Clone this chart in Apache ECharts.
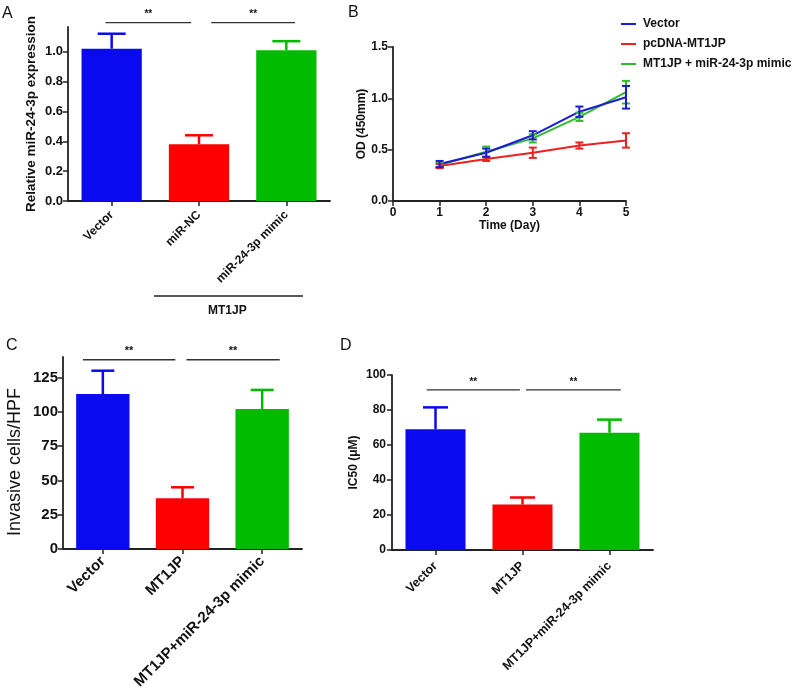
<!DOCTYPE html>
<html><head><meta charset="utf-8">
<script src="https://cdn.jsdelivr.net/npm/echarts@6/dist/echarts.min.js"></script>
<style>html,body{margin:0;padding:0;background:#fff}#c{width:800px;height:691px}</style>
</head><body><div id="c"></div>
<script>
// ---- data ----
const catsA = ['Vector', 'miR-NC', 'miR-24-3p mimic'];
const valsA = [1.02, 0.38, 1.01];
const errA = [0.10, 0.06, 0.06];
const yTicksA = [0, 0.2, 0.4, 0.6, 0.8, 1.0];

const daysB = [1, 2, 3, 4, 5];
const vectorB = [0.36, 0.47, 0.64, 0.87, 1.01];
const vectorErrB = [0.03, 0.04, 0.04, 0.05, 0.11];
const pcdnaB = [0.34, 0.41, 0.47, 0.54, 0.59];
const pcdnaErrB = [0.02, 0.02, 0.05, 0.03, 0.07];
const mimicB = [0.35, 0.48, 0.61, 0.82, 1.06];
const mimicErrB = [0.02, 0.05, 0.04, 0.04, 0.11];
const namesB = ['Vector', 'pcDNA-MT1JP', 'MT1JP + miR-24-3p mimic'];

const catsC = ['Vector', 'MT1JP', 'MT1JP+miR-24-3p mimic'];
const valsC = [113, 37, 102];
const errC = [17, 8, 14];
const yTicksC = [0, 25, 50, 75, 100, 125];

const catsD = ['Vector', 'MT1JP', 'MT1JP+miR-24-3p mimic'];
const valsD = [69, 26, 67];
const errD = [12.5, 4, 7.5];

const sigPairs = [[0, 1], [1, 2]];
const sigText = '**';
const groupLabel = 'MT1JP';

// ---- style ----
const FONT = '"Liberation Sans", Arial, sans-serif';
const barColors = ['#0a0af0', '#ff0000', '#00bb00'];
const lineColors = ['#1c1cd6', '#ee2020', '#30bb30'];

const chart = echarts.init(document.getElementById('c'));

function barData(vals) {
  return vals.map((v, i) => ({ value: v, itemStyle: { color: barColors[i] } }));
}
function errData(vals, errs) {
  return vals.map((v, i) => [i, v, errs[i]]);
}
function errBarSeries(idx, vals, errs, capW, lw) {
  return {
    type: 'custom', xAxisIndex: idx, yAxisIndex: idx, z: 5,
    data: errData(vals, errs),
    renderItem: function (params, api) {
      const i = api.value(0), v = api.value(1), e = api.value(2);
      const b = api.coord([i, v]), t = api.coord([i, v + e]);
      const col = barColors[params.dataIndex];
      const st = { stroke: col, lineWidth: lw };
      return { type: 'group', children: [
        { type: 'line', shape: { x1: b[0], y1: b[1], x2: t[0], y2: t[1] }, style: st },
        { type: 'line', shape: { x1: t[0] - capW / 2, y1: t[1], x2: t[0] + capW / 2, y2: t[1] }, style: st }
      ]};
    }
  };
}
function sigSeries(idx, level, offs, fontSize) {
  return {
    type: 'custom', xAxisIndex: idx, yAxisIndex: idx, z: 6, clip: false,
    data: sigPairs.map(p => [p[0], p[1], level]),
    renderItem: function (params, api) {
      const a = api.value(0), b = api.value(1), lv = api.value(2);
      const bw = api.size([1, 0])[0];
      const o = offs[params.dataIndex];
      const p1 = api.coord([a, lv]), p2 = api.coord([b, lv]);
      const x1 = p1[0] + o[0] * bw, x2 = p2[0] + o[1] * bw;
      return { type: 'group', children: [
        { type: 'line', shape: { x1: x1, y1: p1[1], x2: x2, y2: p1[1] }, style: { stroke: '#333', lineWidth: 1.3 } },
        { type: 'text', style: { text: sigText, x: (x1 + x2) / 2, y: p1[1] - 3, align: 'center', verticalAlign: 'bottom',
          font: 'bold ' + fontSize + 'px ' + FONT, fill: '#111' } }
      ]};
    }
  };
}
function bErrSeries(vals, errs, k) {
  return {
    type: 'custom', xAxisIndex: 1, yAxisIndex: 1, z: 5,
    data: vals.map((v, i) => [daysB[i], v, errs[i]]),
    renderItem: function (params, api) {
      const d = api.value(0), v = api.value(1), e = api.value(2);
      const t = api.coord([d, v + e]), b = api.coord([d, v - e]);
      const st = { stroke: lineColors[k], lineWidth: 2 };
      const c = 4;
      return { type: 'group', children: [
        { type: 'line', shape: { x1: t[0], y1: t[1], x2: b[0], y2: b[1] }, style: st },
        { type: 'line', shape: { x1: t[0] - c, y1: t[1], x2: t[0] + c, y2: t[1] }, style: st },
        { type: 'line', shape: { x1: b[0] - c, y1: b[1], x2: b[0] + c, y2: b[1] }, style: st }
      ]};
    }
  };
}

const axisLineStyle = { show: true, lineStyle: { color: '#222', width: 1.8 } };
const tickStyle = { show: true, length: 5, lineStyle: { color: '#222', width: 1.5 } };

const option = {
  backgroundColor: '#fff',
  animation: false,
  textStyle: { fontFamily: FONT },
  grid: [
    { left: 68, top: 27, width: 262, height: 174, outerBoundsMode: 'none', containLabel: false },
    { left: 393, top: 47, width: 233, height: 154, outerBoundsMode: 'none', containLabel: false },
    { left: 63, top: 357, width: 239, height: 192, outerBoundsMode: 'none', containLabel: false },
    { left: 392, top: 375, width: 261, height: 175, outerBoundsMode: 'none', containLabel: false }
  ],
  legend: {
    data: namesB, orient: 'vertical', left: 616, top: 13, icon: 'rect',
    itemWidth: 15, itemHeight: 2, itemGap: 8,
    textStyle: { fontFamily: FONT, fontWeight: 'bold', fontSize: 12, color: '#111', padding: [0, 0, 0, 2] }
  },
  xAxis: [
    { gridIndex: 0, type: 'category', data: catsA, axisLine: axisLineStyle, axisTick: Object.assign({ alignWithLabel: true }, tickStyle),
      axisLabel: { rotate: 45, margin: 12, fontWeight: 'bold', fontSize: 12, color: '#111', interval: 0 } },
    { gridIndex: 1, type: 'value', min: 0, max: 5, interval: 1, splitLine: { show: false },
      axisLine: axisLineStyle, axisTick: tickStyle,
      axisLabel: { fontWeight: 'bold', fontSize: 12, color: '#111', margin: 6 },
      name: 'Time (Day)', nameLocation: 'middle', nameGap: 16,
      nameTextStyle: { fontWeight: 'bold', fontSize: 12, color: '#111' } },
    { gridIndex: 2, type: 'category', data: catsC, axisLine: axisLineStyle, axisTick: Object.assign({ alignWithLabel: true }, tickStyle),
      axisLabel: { rotate: 45, margin: 10, fontWeight: 'bold', fontSize: 15, color: '#111', interval: 0 } },
    { gridIndex: 3, type: 'category', data: catsD, axisLine: axisLineStyle, axisTick: Object.assign({ alignWithLabel: true }, tickStyle),
      axisLabel: { rotate: 45, margin: 14, fontWeight: 'bold', fontSize: 12.5, color: '#111', interval: 0 } }
  ],
  yAxis: [
    { gridIndex: 0, type: 'value', min: 0, max: 1.165, splitLine: { show: false },
      axisLine: axisLineStyle,
      axisTick: Object.assign({ customValues: yTicksA }, tickStyle),
      axisLabel: { customValues: yTicksA, formatter: v => v.toFixed(1), fontWeight: 'bold', fontSize: 13, color: '#111', margin: 5 },
      name: 'Relative miR-24-3p expression', nameLocation: 'middle', nameGap: 30,
      nameTextStyle: { fontWeight: 'bold', fontSize: 13.5, color: '#111' } },
    { gridIndex: 1, type: 'value', min: 0, max: 1.5, interval: 0.5, splitLine: { show: false },
      axisLine: axisLineStyle, axisTick: tickStyle,
      axisLabel: { formatter: v => v.toFixed(1), fontWeight: 'bold', fontSize: 12, color: '#111', margin: 5 },
      name: 'OD (450mm)', nameLocation: 'middle', nameGap: 20,
      nameTextStyle: { fontWeight: 'bold', fontSize: 12, color: '#111' } },
    { gridIndex: 2, type: 'value', min: 0, max: 140, splitLine: { show: false },
      axisLine: axisLineStyle,
      axisTick: Object.assign({ customValues: yTicksC }, tickStyle),
      axisLabel: { customValues: yTicksC, fontWeight: 'bold', fontSize: 15, color: '#111', margin: 5 },
      name: 'Invasive cells/HPF', nameLocation: 'middle', nameGap: 39,
      nameTextStyle: { fontSize: 18, color: '#111', padding: [0, 18, 0, 0] } },
    { gridIndex: 3, type: 'value', min: 0, max: 100, interval: 20, splitLine: { show: false },
      axisLine: axisLineStyle, axisTick: tickStyle,
      axisLabel: { fontWeight: 'bold', fontSize: 12, color: '#111', margin: 6 },
      name: 'IC50 (μM)', nameLocation: 'middle', nameGap: 32,
      nameTextStyle: { fontWeight: 'bold', fontSize: 12, color: '#111' } }
  ],
  graphic: [
    { type: 'text', left: 2, top: 6, style: { text: 'A', font: '16px ' + FONT, fill: '#111' } },
    { type: 'text', left: 348, top: 5, style: { text: 'B', font: '16px ' + FONT, fill: '#111' } },
    { type: 'text', left: 6, top: 338, style: { text: 'C', font: '16px ' + FONT, fill: '#111' } },
    { type: 'text', left: 340, top: 338, style: { text: 'D', font: '16px ' + FONT, fill: '#111' } },
    { type: 'line', shape: { x1: 154, y1: 296, x2: 303, y2: 296 }, style: { stroke: '#222', lineWidth: 1.3 } },
    { type: 'text', left: 208, top: 305, style: { text: groupLabel, font: 'bold 12px ' + FONT, fill: '#111' } }
  ],
  series: [
    { type: 'bar', xAxisIndex: 0, yAxisIndex: 0, data: barData(valsA), barWidth: '69%' },
    errBarSeries(0, valsA, errA, 28, 2.5),
    sigSeries(0, 1.194, [[-0.07, -0.09], [0.14, 0.1]], 10),

    { type: 'line', name: namesB[0], xAxisIndex: 1, yAxisIndex: 1, data: daysB.map((d, i) => [d, vectorB[i]]),
      showSymbol: false, lineStyle: { color: lineColors[0], width: 2 }, itemStyle: { color: lineColors[0] }, z: 4 },
    { type: 'line', name: namesB[1], xAxisIndex: 1, yAxisIndex: 1, data: daysB.map((d, i) => [d, pcdnaB[i]]),
      showSymbol: false, lineStyle: { color: lineColors[1], width: 2 }, itemStyle: { color: lineColors[1] }, z: 3 },
    { type: 'line', name: namesB[2], xAxisIndex: 1, yAxisIndex: 1, data: daysB.map((d, i) => [d, mimicB[i]]),
      showSymbol: false, lineStyle: { color: lineColors[2], width: 2 }, itemStyle: { color: lineColors[2] }, z: 3 },
    bErrSeries(mimicB, mimicErrB, 2),
    bErrSeries(pcdnaB, pcdnaErrB, 1),
    bErrSeries(vectorB, vectorErrB, 0),

    { type: 'bar', xAxisIndex: 2, yAxisIndex: 2, data: barData(valsC), barWidth: '67%' },
    errBarSeries(2, valsC, errC, 23, 2.5),
    sigSeries(2, 138, [[-0.25, -0.09], [0.05, 0.22]], 11),

    { type: 'bar', xAxisIndex: 3, yAxisIndex: 3, data: barData(valsD), barWidth: '69%' },
    errBarSeries(3, valsD, errD, 25, 2.5),
    sigSeries(3, 91.5, [[-0.1, -0.03], [0.04, 0.13]], 10)
  ]
};
chart.setOption(option);
</script>
</body></html>
